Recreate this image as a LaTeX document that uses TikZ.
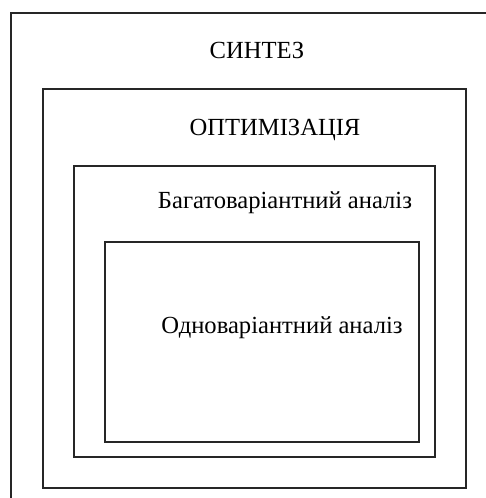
\documentclass[tikz,border=0pt]{standalone}
\usepackage{fontspec}
\setmainfont{Liberation Serif}
\begin{document}
\begin{tikzpicture}[x=1pt,y=-1pt,
  frame/.style={draw=black!85,line width=1.2pt},
  lbl/.style={inner sep=0pt,font=\fontsize{24.6}{28}\selectfont}]
\useasboundingbox (0,0) rectangle (486,498);
\draw[frame] (486,13) -- (11,13) -- (11,498);
\draw[frame] (43,89) rectangle (466,488);
\draw[frame] (74,166) rectangle (435,457);
\draw[frame] (105,242) rectangle (419,442);
\node[lbl] (s) at (257,50) {СИНТЕЗ};
\node[lbl] (o) at (275,130) {ОПТИМІЗАЦІЯ};
\node[lbl] (b) at (285,203) {Багатоваріантний аналіз};
\node[lbl] (a) at (282,328) {Одноваріантний аналіз};
\end{tikzpicture}
\end{document}
